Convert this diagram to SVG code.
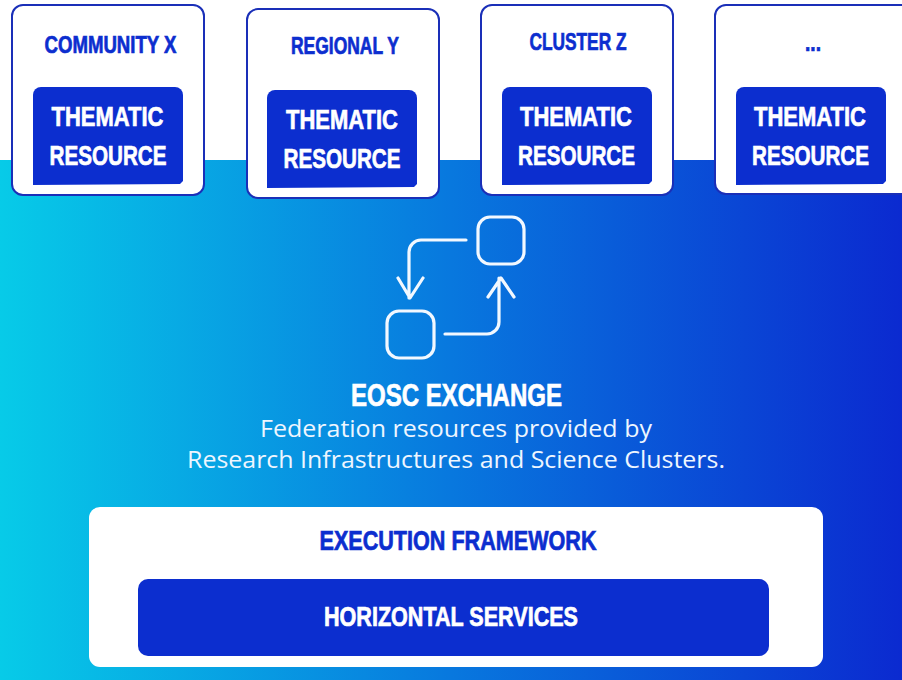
<svg xmlns="http://www.w3.org/2000/svg" width="902" height="680" viewBox="0 0 902 680">
<style>
.card{fill:#fff;stroke:#1a2fb8;stroke-width:2}
.inner{fill:#0c2ecf}
.hd{font-family:"Liberation Sans",Arial,sans-serif;font-weight:700;text-anchor:middle;stroke-width:.7}
.t{font-size:28px;fill:#fff;stroke:#fff}
.h{font-size:24px;fill:#0c2ecf;stroke:#0c2ecf}
.icon{fill:none;stroke:#f2f8ff;stroke-width:3.2;stroke-linecap:round;stroke-linejoin:round}
.body{font-family:"Open Sans","Noto Sans",sans-serif;font-size:23.5px;fill:#eef6ff;text-anchor:middle}
</style>
<defs>
<linearGradient id="bg" x1="0" x2="1" y1="0" y2="0"><stop offset="0" stop-color="#07cbe8"/><stop offset="0.5" stop-color="#0878de"/><stop offset="1" stop-color="#0b2ad0"/></linearGradient>
<path id="innerShape" d="M8 0H142a8 8 0 0 1 8 8V94l-3 3L0 98V8a8 8 0 0 1 8-8Z"/>
</defs>
<rect width="902" height="680" fill="#fff"/>
<rect id="background" y="160" width="902" height="520" fill="url(#bg)"/>

<g id="node-community">
<rect class="card" x="12" y="5" width="192" height="190" rx="11"/>
<use href="#innerShape" x="33" y="87" class="inner"/>
<text class="hd h" x="110.500" y="52.500" textLength="132" lengthAdjust="spacingAndGlyphs">COMMUNITY X</text>
<text class="hd t" x="107.500" y="125.500" textLength="112" lengthAdjust="spacingAndGlyphs">THEMATIC</text>
<text class="hd t" x="108" y="164.500" textLength="117" lengthAdjust="spacingAndGlyphs">RESOURCE</text>
</g>
<g id="node-regional">
<rect class="card" x="247" y="9" width="192" height="189" rx="11"/>
<use href="#innerShape" x="267" y="90" class="inner"/>
<text class="hd h" x="345" y="53.500" textLength="108" lengthAdjust="spacingAndGlyphs">REGIONAL Y</text>
<text class="hd t" x="342" y="128.500" textLength="112" lengthAdjust="spacingAndGlyphs">THEMATIC</text>
<text class="hd t" x="342" y="167.500" textLength="117" lengthAdjust="spacingAndGlyphs">RESOURCE</text>
</g>
<g id="node-cluster">
<rect class="card" x="481" y="5" width="192" height="190" rx="11"/>
<use href="#innerShape" x="502" y="87" class="inner"/>
<text class="hd h" x="578" y="50" textLength="97" lengthAdjust="spacingAndGlyphs">CLUSTER Z</text>
<text class="hd t" x="576" y="125.500" textLength="112" lengthAdjust="spacingAndGlyphs">THEMATIC</text>
<text class="hd t" x="576.500" y="164.500" textLength="117" lengthAdjust="spacingAndGlyphs">RESOURCE</text>
</g>
<g id="node-more">
<path class="card" d="M902 5H726a11 11 0 0 0-11 11V183a11 11 0 0 0 11 11H902"/>
<use href="#innerShape" x="736" y="87" class="inner"/>
<text class="hd h" x="813" y="51" textLength="16" lengthAdjust="spacingAndGlyphs">...</text>
<text class="hd t" x="810" y="125.500" textLength="112" lengthAdjust="spacingAndGlyphs">THEMATIC</text>
<text class="hd t" x="810.500" y="164.500" textLength="117" lengthAdjust="spacingAndGlyphs">RESOURCE</text>
</g>

<g id="connectors">
<path class="icon" d="M466 240H421a12 12 0 0 0-12 12V298M398 278L410 298L423 278"/>
<path class="icon" d="M445 334H487a12 12 0 0 0 12-12V278M488 297L501 278L514 297"/>
</g>
<g id="node-icon-a"><rect class="icon" x="478" y="217" width="46" height="47" rx="12"/></g>
<g id="node-icon-b"><rect class="icon" x="387" y="311" width="47" height="47" rx="12"/></g>

<g id="node-exchange">
<text class="hd" x="456.500" y="406" font-size="31" fill="#fff" stroke="#fff" textLength="211" lengthAdjust="spacingAndGlyphs">EOSC EXCHANGE</text>
<text class="body" x="456" y="437" textLength="392" lengthAdjust="spacingAndGlyphs">Federation resources provided by</text>
<text class="body" x="456" y="468" textLength="538" lengthAdjust="spacingAndGlyphs">Research Infrastructures and Science Clusters.</text>
</g>

<g id="node-execution">
<rect x="89" y="507" width="734" height="160" rx="11" fill="#fff"/>
<text class="hd" x="458" y="549.500" font-size="27" fill="#0c2ecf" stroke="#0c2ecf" textLength="277" lengthAdjust="spacingAndGlyphs">EXECUTION FRAMEWORK</text>
</g>
<g id="node-horizontal">
<rect x="138" y="579" width="631" height="77" rx="10" fill="#0c2ecf"/>
<text class="hd" x="451" y="626" font-size="27" fill="#fff" stroke="#fff" textLength="254" lengthAdjust="spacingAndGlyphs">HORIZONTAL SERVICES</text>
</g>
</svg>
